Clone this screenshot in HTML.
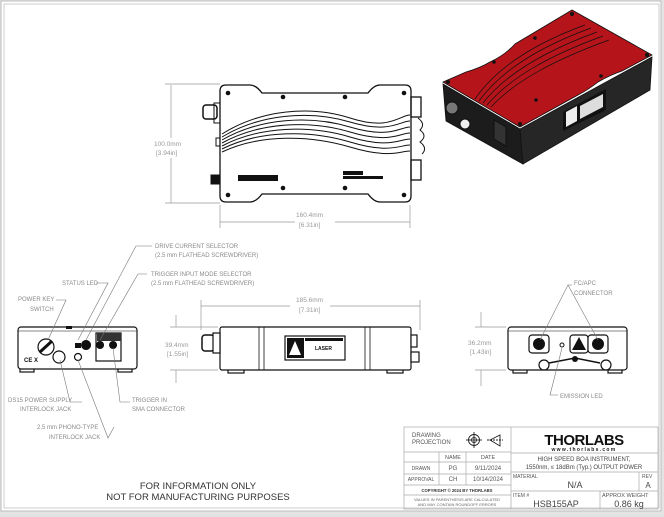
<!DOCTYPE html>
<html><head><meta charset="utf-8"><style>
html,body{margin:0;padding:0;background:#fff;}
svg{display:block;font-family:"Liberation Sans",sans-serif;}
.c{font-size:6px;fill:#8a8a8a;}
.d{font-size:6.5px;fill:#999;}
</style></head><body>
<svg width="664" height="517" viewBox="0 0 664 517">
<rect x="0" y="0" width="664" height="517" fill="#e4e4e4"/>
<rect x="1" y="1" width="660" height="510" fill="#fff" stroke="#bbb" stroke-width="1"/>
<rect x="4" y="4" width="655" height="504" fill="#fff" stroke="#ccc" stroke-width="1"/>

<!-- TOP VIEW -->
<g stroke="#111" fill="none" stroke-width="1">
<path d="M226,85 L250,85 Q256,85 262,93 L368,93 Q374,85 380,85 L405,85 Q411,85 411,91 L411,196 Q411,202 405,202 L380,202 Q374,202 368,194 L262,194 Q256,202 250,202 L226,202 Q220,202 220,196 L220,91 Q220,85 226,85 Z" fill="#fff" stroke-width="1.3"/>
<path d="M222,134 C260,110 310,105 350,118 S400,115 410,115"/>
<path d="M222,137 C260,114 310,110 350,122 S400,121 410,121"/>
<path d="M222,140 C260,118 310,115 350,127 S400,127 410,127"/>
<path d="M222,143 C260,122 310,120 350,132 S400,133 410,133"/>
<path d="M222,146 C260,126 310,125 350,137 S400,139 410,139"/>
<path d="M222,149 C260,130 310,130 350,142 S400,145 410,145"/>
<path d="M222,152 C260,134 310,135 350,147 S400,151 410,151"/>
<rect x="203" y="105" width="14" height="14" rx="3" stroke-width="1.5"/>
<rect x="214" y="103" width="6" height="20"/>
<rect x="216" y="138" width="4" height="8"/>
<rect x="211" y="175" width="9" height="9" fill="#111"/>
<rect x="411" y="97" width="10" height="20" stroke-width="1.3"/>
<rect x="411" y="160" width="10" height="20" stroke-width="1.3"/>
<path d="M418,118 q8,6 2,12 q8,6 0,12 q8,6 2,12" stroke-width="1"/>
</g>
<g fill="#111">
<circle cx="228" cy="93" r="2.3"/><circle cx="283" cy="97" r="2.3"/><circle cx="345" cy="97" r="2.3"/><circle cx="404" cy="93" r="2.3"/>
<circle cx="228" cy="195" r="2.3"/><circle cx="283" cy="188" r="2.3"/><circle cx="345" cy="188" r="2.3"/><circle cx="404" cy="195" r="2.3"/>
<rect x="238" y="175" width="40" height="6"/>
<rect x="343" y="171" width="20" height="4"/><rect x="343" y="176" width="40" height="3"/>
</g>
<g stroke="#999" stroke-width="0.7" fill="none">
<line x1="165" y1="84" x2="220" y2="84"/><line x1="165" y1="203" x2="220" y2="203"/>
<line x1="171" y1="85" x2="171" y2="138"/><line x1="171" y1="158" x2="171" y2="203"/>
<line x1="220" y1="205" x2="220" y2="228"/><line x1="410" y1="205" x2="410" y2="228"/>
<line x1="220" y1="222" x2="295" y2="222"/><line x1="335" y1="222" x2="410" y2="222"/>
</g>
<text class="d" x="154" y="146">100.0mm</text><text class="d" x="156" y="155">[3.94in]</text>
<text class="d" x="296" y="217">160.4mm</text><text class="d" x="299" y="227">[6.31in]</text>

<!-- 3D RED VIEW -->
<g stroke="#111" stroke-width="0.8">
<polygon points="443,84 520,129 523,164 446,121" fill="#1c1c1c"/>
<polygon points="520,129 652,57 650,90 523,164" fill="#262626"/>
<path d="M443,82 L466,72 Q480,68 490,62 Q505,55 515,44 L572,10 L652,55 L622,71 Q610,75 598,82 Q588,90 578,95 L520,127 Z" fill="#b5141a"/>
</g>
<g stroke="#111" stroke-width="0.7" fill="none">
<path d="M475,99 C495,70 530,45 585,25"/><path d="M479,101 C500,72 536,48 591,28"/>
<path d="M483,103 C505,75 542,52 597,32"/><path d="M487,105 C510,78 548,56 603,36"/>
<path d="M491,107 C515,81 554,60 609,40"/>
</g>
<g fill="#111">
<circle cx="572" cy="14" r="2"/><circle cx="647" cy="55" r="2"/><circle cx="520" cy="124" r="2"/><circle cx="448" cy="82" r="2"/>
<circle cx="536" cy="100" r="1.8"/><circle cx="601" cy="76" r="1.8"/><circle cx="494" cy="62" r="1.8"/><circle cx="535" cy="38" r="1.8"/>
</g>
<polygon points="563,112 606,89 606,110 563,131" fill="#111"/>
<polygon points="580,106 603,94 603,107 580,119" fill="#ddd"/>
<polygon points="566,112 577,106 577,121 566,127" fill="#eee"/>
<circle cx="452" cy="108" r="6" fill="#777" stroke="#111"/>
<circle cx="465" cy="124" r="5" fill="#eee" stroke="#111"/>
<polygon points="494,120 506,127 506,146 494,139" fill="#333" stroke="#111"/>

<!-- LEFT END VIEW -->
<g stroke="#111" fill="#fff" stroke-width="1.2">
<rect x="20" y="367" width="14" height="5"/><rect x="118" y="367" width="14" height="5"/>
<rect x="18" y="327" width="119" height="42" rx="3"/>
<line x1="18" y1="331" x2="137" y2="331" stroke-width="0.6"/>
<circle cx="46" cy="347" r="8"/>
<circle cx="59" cy="357" r="6"/>
<circle cx="78" cy="357" r="3.5"/>
<rect x="96" y="333" width="25" height="28"/>
</g>
<rect x="97" y="333" width="24" height="8" fill="#333"/>
<line x1="40" y1="352" x2="52" y2="341" stroke="#111" stroke-width="3"/>
<rect x="66" y="326" width="6" height="3" fill="#111"/>
<text x="24" y="362" font-size="6" font-weight="bold" fill="#111">CE X</text>
<path d="M75,343 h6 v5 h-6z M86,340 a5,5 0 1,0 0.1,0z M100,341 a4,4 0 1,0 0.1,0z M113,341 a4,4 0 1,0 0.1,0z" fill="#111"/>

<!-- SIDE VIEW -->
<g stroke="#111" fill="#fff" stroke-width="1.2">
<rect x="228" y="368" width="16" height="5"/><rect x="387" y="368" width="16" height="5"/>
<rect x="220" y="327" width="191" height="43" rx="2"/>
<rect x="202" y="335" width="12" height="16" rx="3" stroke-width="1.5"/>
<rect x="213" y="333" width="7" height="20"/>
<rect x="411" y="335" width="6" height="12"/>
<rect x="411" y="352" width="8" height="10"/>
<rect x="285" y="336" width="60" height="24"/>
</g>
<g stroke="#111" stroke-width="0.8"><line x1="259" y1="327" x2="259" y2="370"/><line x1="264" y1="327" x2="264" y2="370"/><line x1="365" y1="327" x2="365" y2="370"/><line x1="370" y1="327" x2="370" y2="370"/></g>
<rect x="287" y="338" width="17" height="20" fill="#111"/><polygon points="295,341 301,355 289,355" fill="#fff"/>
<rect x="305" y="338" width="38" height="3" fill="#111"/>
<text x="315" y="350" font-size="5" font-weight="bold" fill="#111">LASER</text>
<g stroke="#999" stroke-width="0.7" fill="none">
<line x1="201" y1="300" x2="201" y2="330"/><line x1="420" y1="300" x2="420" y2="330"/>
<line x1="201" y1="306" x2="290" y2="306"/><line x1="330" y1="306" x2="420" y2="306"/>
<line x1="170" y1="327" x2="218" y2="327"/><line x1="170" y1="370" x2="218" y2="370"/>
<line x1="176" y1="315" x2="176" y2="327"/><line x1="176" y1="370" x2="176" y2="383"/>
<line x1="475" y1="327" x2="506" y2="327"/><line x1="475" y1="370" x2="506" y2="370"/>
<line x1="481" y1="312" x2="481" y2="327"/><line x1="481" y1="370" x2="481" y2="386"/>
</g>
<text class="d" x="296" y="302">185.6mm</text><text class="d" x="299" y="312">[7.31in]</text>
<text class="d" x="165" y="347">39.4mm</text><text class="d" x="167" y="356">[1.55in]</text>
<text class="d" x="468" y="345">36.2mm</text><text class="d" x="470" y="354">[1.43in]</text>

<!-- RIGHT END VIEW -->
<g stroke="#111" fill="#fff" stroke-width="1.2">
<rect x="513" y="368" width="14" height="5"/><rect x="608" y="368" width="14" height="5"/>
<rect x="508" y="327" width="119" height="43" rx="3"/>
<line x1="508" y1="331" x2="627" y2="331" stroke-width="0.6"/>
<rect x="529" y="335" width="20" height="18" rx="3"/>
<rect x="570" y="335" width="18" height="18" rx="3"/>
<rect x="588" y="335" width="20" height="18" rx="3"/>
<circle cx="544" cy="365" r="5"/><circle cx="606" cy="365" r="5"/>
</g>
<circle cx="539" cy="344" r="6" fill="#111"/><circle cx="598" cy="344" r="6" fill="#111"/>
<polygon points="579,337 586,350 572,350" fill="#111"/>
<circle cx="562" cy="345" r="2" fill="none" stroke="#111"/>
<path d="M549,363 L575,358 L600,363" stroke="#111" fill="none" stroke-width="1.5"/>
<circle cx="575" cy="359" r="3" fill="#111"/>

<!-- callout leader lines -->
<g stroke="#777" stroke-width="0.6" fill="none">
<polyline points="152,246 136,246 86,340"/>
<polyline points="147,274 138,274 100,340"/>
<polyline points="96,283 108,283 78,340"/>
<polyline points="56,300 66,300 48,340"/>
<polyline points="82,402 70,402 60,360"/>
<polyline points="130,402 120,402 113,348"/>
<polyline points="114,427 108,438 78,360"/>
<polyline points="572,285 568,285 540,340"/>
<polyline points="568,285 598,340"/>
<polyline points="558,395 550,395 562,348"/>
</g>
<text class="c" x="155" y="248">DRIVE CURRENT SELECTOR</text>
<text class="c" x="155" y="257">(2.5 mm FLATHEAD SCREWDRIVER)</text>
<text class="c" x="151" y="276">TRIGGER INPUT MODE SELECTOR</text>
<text class="c" x="151" y="285">(2.5 mm FLATHEAD SCREWDRIVER)</text>
<text class="c" x="62" y="285">STATUS LED</text>
<text class="c" x="18" y="301">POWER KEY</text>
<text class="c" x="30" y="311">SWITCH</text>
<text class="c" x="8" y="402">DS15 POWER SUPPLY</text>
<text class="c" x="20" y="411">INTERLOCK JACK</text>
<text class="c" x="132" y="402">TRIGGER IN</text>
<text class="c" x="132" y="411">SMA CONNECTOR</text>
<text class="c" x="37" y="429">2.5 mm PHONO-TYPE</text>
<text class="c" x="49" y="439">INTERLOCK JACK</text>
<text class="c" x="574" y="285">FC/APC</text>
<text class="c" x="574" y="295">CONNECTOR</text>
<text class="c" x="560" y="398">EMISSION LED</text>

<text x="198" y="489" font-size="9.5" fill="#333" text-anchor="middle">FOR INFORMATION ONLY</text>
<text x="198" y="500" font-size="9.5" fill="#333" text-anchor="middle">NOT FOR MANUFACTURING PURPOSES</text>

<!-- TITLE BLOCK -->
<g stroke="#aaa" stroke-width="0.7" fill="none">
<rect x="404" y="427" width="254" height="82"/>
<line x1="511" y1="427" x2="511" y2="509"/>
<line x1="404" y1="452" x2="511" y2="452"/>
<line x1="404" y1="462" x2="511" y2="462"/>
<line x1="404" y1="474" x2="511" y2="474"/>
<line x1="404" y1="485" x2="511" y2="485"/>
<line x1="404" y1="495" x2="511" y2="495"/>
<line x1="439" y1="452" x2="439" y2="485"/>
<line x1="466" y1="452" x2="466" y2="485"/>
<line x1="511" y1="453" x2="658" y2="453"/>
<line x1="511" y1="472" x2="658" y2="472"/>
<line x1="511" y1="491" x2="658" y2="491"/>
<line x1="600" y1="491" x2="600" y2="509"/>
<line x1="639" y1="472" x2="639" y2="491"/>
</g>
<text x="412" y="437" font-size="6" fill="#555">DRAWING</text>
<text x="412" y="444" font-size="6" fill="#555">PROJECTION</text>
<g stroke="#222" fill="none" stroke-width="0.9">
<circle cx="474" cy="440" r="5.5"/><circle cx="474" cy="440" r="2.5"/>
<line x1="466" y1="440" x2="482" y2="440"/><line x1="474" y1="432" x2="474" y2="448"/>
<polygon points="490,440 500,435 500,446"/><line x1="487" y1="440" x2="503" y2="440" stroke-dasharray="2,1"/>
</g>
<text x="453" y="459" font-size="5.5" fill="#555" text-anchor="middle">NAME</text>
<text x="488" y="459" font-size="5.5" fill="#555" text-anchor="middle">DATE</text>
<text x="421" y="470" font-size="5" fill="#555" text-anchor="middle">DRAWN</text>
<text x="453" y="470" font-size="6" fill="#555" text-anchor="middle">PG</text>
<text x="488" y="470" font-size="6" fill="#555" text-anchor="middle">9/11/2024</text>
<text x="421" y="481" font-size="5" fill="#555" text-anchor="middle">APPROVAL</text>
<text x="453" y="481" font-size="6" fill="#555" text-anchor="middle">CH</text>
<text x="488" y="481" font-size="6" fill="#555" text-anchor="middle">10/14/2024</text>
<text x="457" y="492" font-size="4.2" font-weight="bold" fill="#333" text-anchor="middle">COPYRIGHT © 2024 BY THORLABS</text>
<text x="457" y="501" font-size="4" fill="#666" text-anchor="middle">VALUES IN PARENTHESIS ARE CALCULATED</text>
<text x="457" y="506" font-size="4" fill="#666" text-anchor="middle">AND MAY CONTAIN ROUNDOFF ERRORS</text>
<text x="584" y="445" font-size="15" font-weight="bold" fill="#111" text-anchor="middle" letter-spacing="-0.5">THORLABS</text>
<text x="584" y="451" font-size="5" font-weight="bold" fill="#222" text-anchor="middle" letter-spacing="1.3">www.thorlabs.com</text>
<text x="584" y="461" font-size="6" fill="#444" text-anchor="middle">HIGH SPEED BOA INSTRUMENT,</text>
<text x="584" y="469" font-size="6" fill="#444" text-anchor="middle">1550nm, ≤ 18dBm (Typ.) OUTPUT POWER</text>
<text x="513" y="478" font-size="5" fill="#555">MATERIAL</text>
<text x="575" y="488" font-size="9" fill="#444" text-anchor="middle">N/A</text>
<text x="642" y="478" font-size="5" fill="#555">REV</text>
<text x="648" y="488" font-size="8" fill="#444" text-anchor="middle">A</text>
<text x="513" y="497" font-size="5" fill="#555">ITEM #</text>
<text x="556" y="507" font-size="9" fill="#444" text-anchor="middle">HSB155AP</text>
<text x="602" y="497" font-size="5.5" fill="#555">APPROX WEIGHT</text>
<text x="629" y="507" font-size="9" fill="#444" text-anchor="middle">0.86 kg</text>
</svg>
</body></html>
